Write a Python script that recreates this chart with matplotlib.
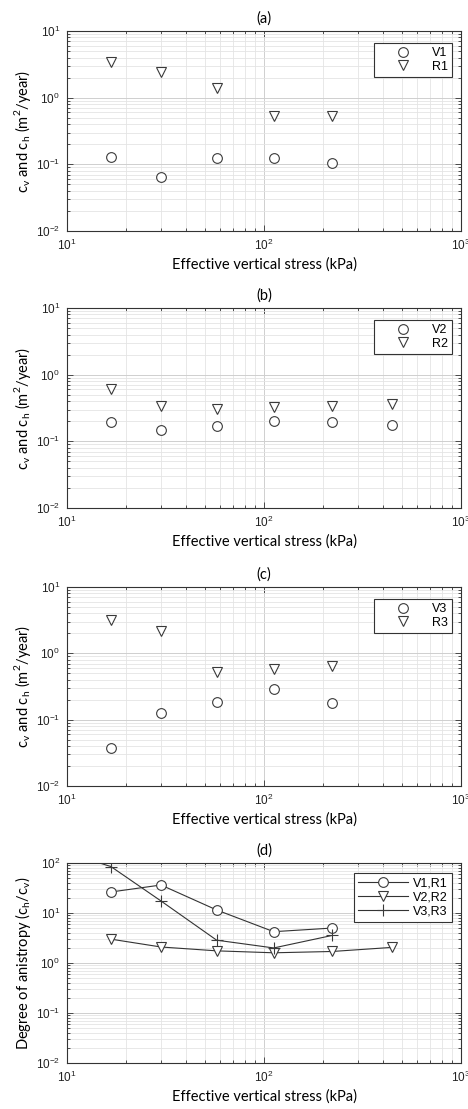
import matplotlib
matplotlib.use("Agg")
import matplotlib.pyplot as plt
from matplotlib.ticker import LogLocator, NullFormatter

# ---- data ----
stress_a = [16.7, 30, 57.5, 112, 222]
V1 = [0.129, 0.065, 0.123, 0.123, 0.105]
R1 = [3.43, 2.43, 1.40, 0.53, 0.53]

stress_b = [16.7, 30, 57.5, 112, 222, 445]
V2 = [0.193, 0.150, 0.170, 0.200, 0.195, 0.174]
R2 = [0.60, 0.335, 0.309, 0.324, 0.339, 0.363]

stress_c = [16.7, 30, 57.5, 112, 222]
V3 = [0.038, 0.126, 0.182, 0.290, 0.180]
R3 = [3.16, 2.19, 0.52, 0.59, 0.64]

stress_d1 = [16.7, 30, 57.5, 112, 222]
A1 = [26.3, 36.3, 11.5, 4.23, 5.0]
stress_d2 = [16.7, 30, 57.5, 112, 222, 445]
A2 = [3.0, 2.09, 1.75, 1.6, 1.7, 2.05]
stress_d3 = [10, 16.7, 30, 57.5, 112, 222]
A3 = [160, 85, 17.4, 2.86, 2.0, 3.56]

titles = ["(a)", "(b)", "(c)", "(d)"]
xlabel = "Effective vertical stress (kPa)"
ylabel_c = r"c$_\mathregular{v}$ and c$_\mathregular{h}$ (m$^\mathregular{2}$/year)"
ylabel_d = r"Degree of anistropy (c$_\mathregular{h}$/c$_\mathregular{v}$)"

W, H = 468, 1109
fig = plt.figure(figsize=(W / 100, H / 100), dpi=100)

label_font = "Lato"
tick_font = "Liberation Sans"
ec = "#3a3a3a"

def make_ax(top_px, bot_px):
    left = 67 / W
    width = 394 / W
    return fig.add_axes([left, 1 - bot_px / H, width, (bot_px - top_px) / H])

def style(ax, title, ylabel, ylim):
    ax.set_xscale("log")
    ax.set_yscale("log")
    ax.set_xlim(10, 1000)
    ax.set_ylim(*ylim)
    ax.grid(True, which="major", color="#cfcfcf", lw=0.7)
    ax.grid(True, which="minor", color="#e4e4e4", lw=0.6)
    ax.set_axisbelow(True)
    ax.xaxis.set_major_locator(LogLocator(base=10, numticks=10))
    ax.yaxis.set_major_locator(LogLocator(base=10, numticks=10))
    ax.xaxis.set_minor_locator(LogLocator(base=10, subs=range(2, 10), numticks=10))
    ax.yaxis.set_minor_locator(LogLocator(base=10, subs=range(2, 10), numticks=10))
    ax.yaxis.set_minor_formatter(NullFormatter())
    ax.xaxis.set_minor_formatter(NullFormatter())
    ax.tick_params(which="both", direction="in", top=True, right=True,
                   colors="#333333", labelcolor="#222222", width=0.6)
    ax.tick_params(which="major", length=4, labelsize=8.5, pad=5)
    ax.tick_params(which="minor", length=2)
    for lab in ax.get_xticklabels() + ax.get_yticklabels():
        lab.set_fontfamily(tick_font)
    for s in ax.spines.values():
        s.set_color("#333333")
        s.set_linewidth(0.8)
    ax.set_title(title, fontsize=10.5, fontfamily=label_font, pad=6)
    ax.set_xlabel(xlabel, fontsize=10.5, fontfamily=label_font, labelpad=3)
    ax.set_ylabel(ylabel, fontsize=10.5, fontfamily=label_font, labelpad=2)

mk = dict(linestyle="none", markerfacecolor="white", markeredgecolor=ec,
          markeredgewidth=0.8)

panels = [
    (31, 231, stress_a, V1, R1, "V1", "R1"),
    (308, 508, stress_b, V2, R2, "V2", "R2"),
    (587, 786, stress_c, V3, R3, "V3", "R3"),
]
for i, (t, b, xs, v, r, lv, lr) in enumerate(panels):
    ax = make_ax(t, b)
    ax.plot(xs, v, marker="o", markersize=7, label=lv, **mk)
    ax.plot(xs, r, marker="v", markersize=7.5, label=lr, **mk)
    style(ax, titles[i], ylabel_c, (0.01, 10))
    leg = ax.legend(loc="upper right", bbox_to_anchor=(0.978, 0.94), fancybox=False,
                    edgecolor="#333333", framealpha=1,
                    handlelength=4.0, handletextpad=0.3, borderpad=0.35,
                    labelspacing=0.1, borderaxespad=0, markerfirst=True,
                    prop={"family": tick_font, "size": 9})
    leg.get_frame().set_linewidth(0.8)

ax = make_ax(863, 1063)
lk = dict(color="#333333", lw=0.8, markerfacecolor="white", markeredgecolor=ec,
          markeredgewidth=0.8)
ax.plot(stress_d1, A1, marker="o", markersize=7, label="V1,R1", **lk)
ax.plot(stress_d2, A2, marker="v", markersize=7.5, label="V2,R2", **lk)
ax.plot(stress_d3, A3, marker="+", markersize=9, label="V3,R3", **lk)
style(ax, titles[3], ylabel_d, (0.01, 100))
leg = ax.legend(loc="upper right", bbox_to_anchor=(0.978, 0.95), fancybox=False,
                edgecolor="#333333", framealpha=1,
                handlelength=4.0, handletextpad=0.4, borderpad=0.35,
                labelspacing=0.15, borderaxespad=0,
                prop={"family": tick_font, "size": 9})
leg.get_frame().set_linewidth(0.8)

fig.savefig("out.png", dpi=100)
